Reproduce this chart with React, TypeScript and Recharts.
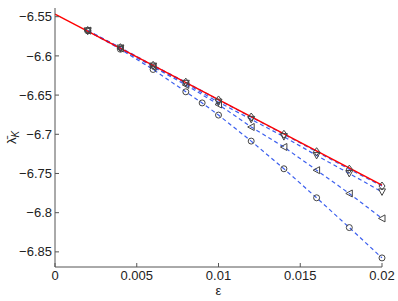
import React from 'react';
import { LineChart, Line, XAxis, YAxis } from 'recharts';

// step sizes on the x axis
const EPS = [0.002, 0.004, 0.006, 0.008, 0.01, 0.012, 0.014, 0.016, 0.018, 0.02];
const EPS_CIRCLE = [0.002, 0.004, 0.006, 0.008, 0.009, 0.01, 0.012, 0.014, 0.016, 0.018, 0.02];

// lambda_K estimates per scheme
const DIAMOND = [-6.5676, -6.5895, -6.612, -6.6335, -6.6562, -6.678, -6.7, -6.7222, -6.7445, -6.766];
const DOWN_TRI = [-6.568, -6.59, -6.613, -6.635, -6.659, -6.681, -6.703, -6.727, -6.75, -6.7735];
const LEFT_TRI = [-6.5678, -6.5905, -6.614, -6.637, -6.662, -6.6907, -6.7162, -6.7458, -6.7755, -6.8073];
const CIRCLE = [-6.568, -6.5915, -6.6173, -6.6458, -6.66, -6.6755, -6.7087, -6.744, -6.781, -6.819, -6.8577];

// exact reference (red)
const REF_X = [0, 0.02];
const REF_Y = [-6.5466, -6.765];

const X_TICKS = [0, 0.005, 0.01, 0.015, 0.02];
const Y_TICKS = [-6.85, -6.8, -6.75, -6.7, -6.65, -6.6, -6.55];

const X_DOMAIN = [0, 0.02];
const Y_DOMAIN = [-6.8693, -6.5389];

const toRows = (xs: number[], ys: number[]) => xs.map((x, i) => ({ x, y: ys[i] }));

const AXIS = '#555';
const MARK = '#444';
const BLUE = '#3d60ee';
const FONT = '"Liberation Sans", Arial, sans-serif';

const fmtY = (v: number) => (v < 0 ? '\u2212' + Math.abs(v) : String(v));

type Shape = 'circle' | 'left' | 'down' | 'diamond';

const makeDot = (shape: Shape) => (props: any) => {
  const { cx, cy, index } = props;
  if (cx == null || cy == null) return <g key={index} />;
  const common = { fill: 'none', stroke: MARK, strokeWidth: 1 };
  if (shape === 'circle') return <circle key={index} cx={cx} cy={cy} r={3} {...common} />;
  let pts = '';
  if (shape === 'left') pts = `${cx - 3.5},${cy} ${cx + 3},${cy - 3.5} ${cx + 3},${cy + 3.5}`;
  if (shape === 'down') pts = `${cx - 3.5},${cy - 3} ${cx + 3.5},${cy - 3} ${cx},${cy + 3.5}`;
  if (shape === 'diamond') pts = `${cx},${cy - 4} ${cx + 3},${cy} ${cx},${cy + 4} ${cx - 3},${cy}`;
  return <polygon key={index} points={pts} {...common} />;
};

const series: { key: string; xs: number[]; ys: number[]; shape: Shape }[] = [
  { key: 'circle', xs: EPS_CIRCLE, ys: CIRCLE, shape: 'circle' },
  { key: 'left', xs: EPS, ys: LEFT_TRI, shape: 'left' },
  { key: 'down', xs: EPS, ys: DOWN_TRI, shape: 'down' },
  { key: 'diamond', xs: EPS, ys: DIAMOND, shape: 'diamond' },
];

export default function App() {
  return (
    <div style={{ position: 'absolute', left: 0, top: 0, background: '#fff' }}>
      <LineChart width={398} height={301} margin={{ top: 8, right: 16, left: 0, bottom: 0 }}>
        <XAxis
          type="number"
          dataKey="x"
          domain={X_DOMAIN}
          ticks={X_TICKS}
          height={34}
          tickSize={-4}
          tickMargin={8}
          axisLine={{ stroke: AXIS }}
          tickLine={{ stroke: AXIS }}
          tick={{ fill: '#222', fontSize: 13, fontFamily: FONT }}
          label={{
            content: (p: any) => {
              const vb = p.viewBox;
              return (
                <text x={vb.x + vb.width / 2} y={vb.y + 28} textAnchor="middle" fontSize={13} fontFamily={FONT} fill="#222">
                  ε
                </text>
              );
            },
          }}
        />
        <XAxis
          xAxisId="top"
          orientation="top"
          type="number"
          dataKey="x"
          domain={X_DOMAIN}
          allowDataOverflow
          ticks={X_TICKS}
          height={0}
          tickSize={-4}
          tick={false}
          axisLine={{ stroke: AXIS }}
          tickLine={{ stroke: AXIS }}
        />
        <YAxis
          type="number"
          domain={Y_DOMAIN}
          ticks={Y_TICKS}
          width={55}
          tickSize={-4}
          tickMargin={7}
          tickFormatter={fmtY}
          axisLine={{ stroke: AXIS }}
          tickLine={{ stroke: AXIS }}
          tick={{ fill: '#222', fontSize: 13, fontFamily: FONT }}
          label={{
            content: (p: any) => {
              const vb = p.viewBox;
              const cx = vb.x + 16;
              const cy = vb.y + vb.height / 2;
              return (
                <text transform={`translate(${cx},${cy}) rotate(-90)`} textAnchor="middle" fontSize={13} fontFamily={FONT} fill="#222">
                  λ̄
                  <tspan fontSize={10} fontStyle="italic" dy={3}>K</tspan>
                </text>
              );
            },
          }}
        />
        <YAxis
          yAxisId="right"
          orientation="right"
          type="number"
          domain={Y_DOMAIN}
          allowDataOverflow
          ticks={Y_TICKS}
          width={0}
          tickSize={-4}
          tick={false}
          axisLine={{ stroke: AXIS }}
          tickLine={{ stroke: AXIS }}
        />

        {/* dashed scheme curves */}
        {series.map((s) => (
          <Line
            key={s.key + '-line'}
            data={toRows(s.xs, s.ys)}
            dataKey="y"
            type="linear"
            stroke={BLUE}
            strokeWidth={1.2}
            strokeDasharray="4 3"
            dot={false}
            activeDot={false}
            isAnimationActive={false}
          />
        ))}

        {/* exact value */}
        <Line
          data={toRows(REF_X, REF_Y)}
          dataKey="y"
          type="linear"
          stroke="#ff0000"
          strokeWidth={1.4}
          dot={false}
          activeDot={false}
          isAnimationActive={false}
        />

        {/* markers on top */}
        {series.map((s) => (
          <Line
            key={s.key + '-marks'}
            data={toRows(s.xs, s.ys)}
            dataKey="y"
            type="linear"
            stroke="none"
            dot={makeDot(s.shape)}
            activeDot={false}
            isAnimationActive={false}
          />
        ))}
      </LineChart>
    </div>
  );
}
